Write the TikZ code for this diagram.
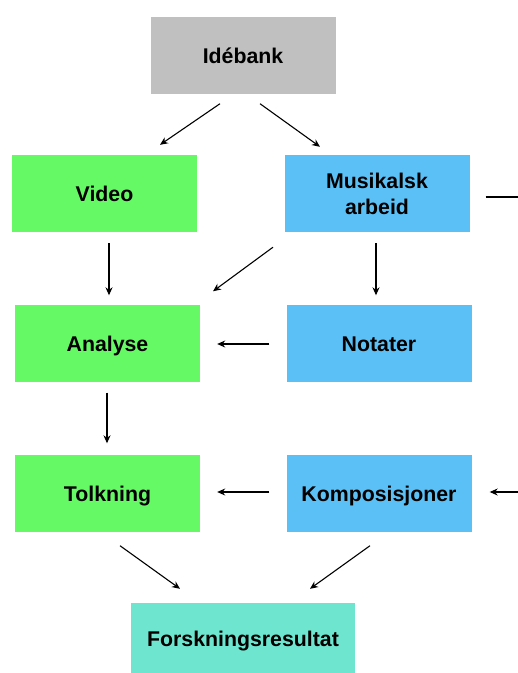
\documentclass[tikz,border=0pt]{standalone}
\usepackage{fontspec}
\setmainfont{Liberation Sans}
\usetikzlibrary{arrows.meta,calc}
\definecolor{boxgray}{HTML}{C0C0C0}
\definecolor{boxgreen}{HTML}{66F966}
\definecolor{boxblue}{HTML}{5BC0F6}
\definecolor{boxteal}{HTML}{6EE6CF}
\begin{document}
\begin{tikzpicture}[x=1pt,y=-1pt,
  box/.style={minimum width=185pt,minimum height=77pt,inner sep=0pt,align=center,
    text height=18pt,text depth=2pt,
    font=\fontsize{21.3}{26}\selectfont\bfseries},
  conn/.style={line width=1.1pt,-{Stealth[length=8pt,width=7pt]}},
  plain/.style={line width=1.1pt}]
\useasboundingbox (0,0) rectangle (518,673);
\node[box,fill=boxgray] (ide) at (243,55) {Idébank};
\node[box,fill=boxgreen] (video) at (104.5,193.5) {Video};
\node[box,fill=boxblue,text height=44pt] (mus) at (377,193.5) {Musikalsk\\arbeid};
\node[box,fill=boxgreen] (ana) at (107.5,343) {Analyse};
\node[box,fill=boxblue] (not) at (379,343) {Notater};
\node[box,fill=boxgreen] (tolk) at (107.5,493) {Tolkning};
\node[box,fill=boxblue] (komp) at (379,493) {Komposisjoner};
\node[box,fill=boxteal,minimum width=224pt,minimum height=70pt] (fors) at (243,638) {Forskningsresultat};
% free ends at the right border
\coordinate (rtop) at (518,197);
\coordinate (rbot) at (518,492);
\draw[conn] ($(ide.south)+(-23,10)$) -- ($(video.north)+(55.5,-10)$);
\draw[conn] ($(ide.south)+(17,10)$) -- ($(mus.north)+(-57,-8)$);
\draw[conn] ($(video.south)+(4.5,11)$) -- ($(ana.north)+(1.5,-9)$);
\draw[conn] ($(mus.south)+(-104,15)$) -- ($(ana.north)+(105.5,-13)$);
\draw[conn] ($(mus.south)+(-1,11)$) -- ($(not.north)+(-3,-9)$);
\draw[conn] ($(not.west)+(-17,1)$) -- ($(ana.east)+(17,1)$);
\draw[conn] ($(ana.south)+(-0.5,11)$) -- ($(tolk.north)+(-0.5,-11)$);
\draw[conn] ($(komp.west)+(-17,-1)$) -- ($(tolk.east)+(17,-1)$);
\draw[conn] (rbot) -- ($(komp.east)+(18,-1)$);
\draw[plain] ($(mus.east)+(16,3.5)$) -- (rtop);
\draw[conn] ($(tolk.south)+(12.5,14)$) -- ($(fors.north)+(-63,-14)$);
\draw[conn] ($(komp.south)+(-9,14)$) -- ($(fors.north)+(67,-14)$);
\end{tikzpicture}
\end{document}
